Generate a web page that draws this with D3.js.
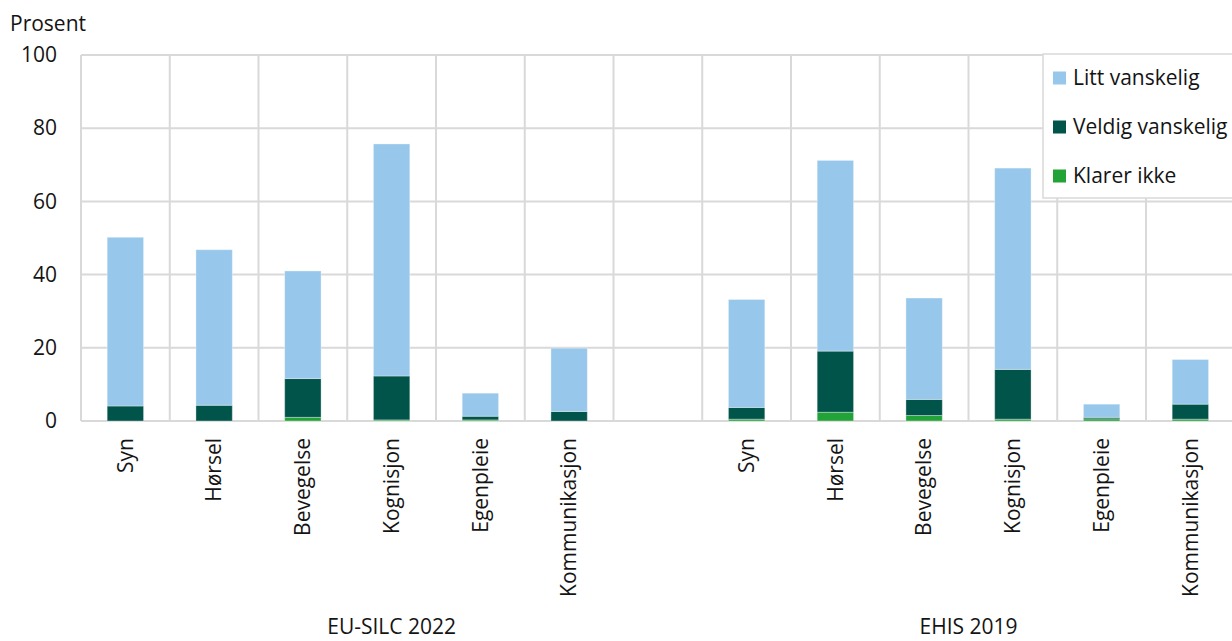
<!DOCTYPE html>
<html>
<head>
<meta charset="utf-8">
<script src="https://cdn.jsdelivr.net/npm/d3@7"></script>
<style>
  html, body { margin: 0; padding: 0; background: #fff; }
  svg { display: block; font-family: "Open Sans", sans-serif; }
</style>
</head>
<body>
<svg id="chart" width="1232" height="641"></svg>
<script>
// Difficulty with functional tasks, share in percent, by survey
const categories = ["Syn", "Hørsel", "Bevegelse", "Kognisjon", "Egenpleie", "Kommunikasjon"];
const surveys = ["EU-SILC 2022", "EHIS 2019"];
const seriesNames = ["Klarer ikke", "Veldig vanskelig", "Litt vanskelig"];
const seriesColors = ["#21a338", "#00544a", "#97c7eb"];

// Values per category, one array per survey
const klarerIkkeSilc      = [0.0, 0.0, 1.0, 0.3, 0.3, 0.0];
const veldigVanskeligSilc = [4.1, 4.3, 10.6, 12.0, 1.0, 2.6];
const littVanskeligSilc   = [46.1, 42.5, 29.4, 63.4, 6.3, 17.3];

const klarerIkkeEhis      = [0.5, 2.4, 1.5, 0.5, 0.6, 0.5];
const veldigVanskeligEhis = [3.2, 16.7, 4.4, 13.6, 0.4, 4.1];
const littVanskeligEhis   = [29.5, 52.1, 27.7, 55.0, 3.6, 12.2];

const yTicks = [0, 20, 40, 60, 80, 100];
const yTitle = "Prosent";

// Build rows: first survey, an empty slot, then the second survey
const rows = [];
categories.forEach((c, i) => rows.push({
  key: "s" + i, label: c, survey: 0,
  "Klarer ikke": klarerIkkeSilc[i],
  "Veldig vanskelig": veldigVanskeligSilc[i],
  "Litt vanskelig": littVanskeligSilc[i]
}));
rows.push({ key: "gap", label: "", survey: 0, "Klarer ikke": 0, "Veldig vanskelig": 0, "Litt vanskelig": 0 });
categories.forEach((c, i) => rows.push({
  key: "e" + i, label: c, survey: 1,
  "Klarer ikke": klarerIkkeEhis[i],
  "Veldig vanskelig": veldigVanskeligEhis[i],
  "Litt vanskelig": littVanskeligEhis[i]
}));

const svg = d3.select("#chart");
const margin = { left: 81, top: 55, bottom: 421 };
const plotRight = 81 + 13 * 88.75;
const fontSize = 21;
const textColor = "#141414";

const x = d3.scaleBand().domain(rows.map(d => d.key)).range([margin.left, plotRight]).paddingInner(0).paddingOuter(0);
const y = d3.scaleLinear().domain([0, 100]).range([margin.bottom, margin.top]);

const gridColor = "#d9d9d9";
const grid = svg.append("g");

// horizontal gridlines
grid.selectAll("line.h").data(yTicks).join("line")
  .attr("x1", margin.left).attr("x2", plotRight)
  .attr("y1", d => y(d)).attr("y2", d => y(d))
  .attr("stroke", gridColor).attr("stroke-width", 2);

// vertical gridlines at category boundaries
const bounds = rows.map(d => x(d.key)).concat([plotRight]);
grid.selectAll("line.v").data(bounds).join("line")
  .attr("x1", d => d).attr("x2", d => d)
  .attr("y1", y(100)).attr("y2", y(0))
  .attr("stroke", gridColor).attr("stroke-width", 2);

// stacked bars
const stack = d3.stack().keys(seriesNames);
const stacked = stack(rows);
const bw = x.bandwidth() * 0.41;

svg.append("g").selectAll("g").data(stacked).join("g")
  .attr("fill", (d, i) => seriesColors[i])
  .selectAll("rect").data(d => d.filter(p => p[1] - p[0] > 0)).join("rect")
  .attr("x", d => x(d.data.key) + (x.bandwidth() - bw) / 2)
  .attr("width", bw)
  .attr("y", d => y(d[1]))
  .attr("height", d => y(d[0]) - y(d[1]))
  .attr("stroke", "rgba(255,255,255,0.35)")
  .attr("stroke-width", 1);

// y axis labels
const yAxis = d3.axisLeft(y).tickValues(yTicks).tickSize(0).tickPadding(24);
const ya = svg.append("g").attr("transform", `translate(${margin.left},0)`).call(yAxis);
ya.select(".domain").remove();
ya.selectAll("text").attr("font-size", fontSize).attr("fill", textColor).attr("font-family", "Open Sans, sans-serif");

svg.append("text").attr("x", 10).attr("y", 31).attr("font-size", fontSize).attr("fill", textColor).text(yTitle);

// category labels, rotated
svg.append("g").selectAll("text").data(rows.filter(d => d.label)).join("text")
  .attr("transform", d => `translate(${x(d.key) + x.bandwidth() / 2},438) rotate(-90)`)
  .attr("text-anchor", "end")
  .attr("dy", "0.35em")
  .attr("font-size", fontSize).attr("fill", textColor)
  .text(d => d.label);

// survey labels centred under their groups
const groupSpan = [
  [x("s0"), x("gap") + x.bandwidth()],
  [x("e0"), plotRight]
];
svg.append("g").selectAll("text").data(surveys).join("text")
  .attr("x", (d, i) => (groupSpan[i][0] + groupSpan[i][1]) / 2)
  .attr("y", 634)
  .attr("text-anchor", "middle")
  .attr("font-size", fontSize).attr("fill", textColor)
  .text(d => d);

// legend
const legend = svg.append("g");
legend.append("rect").attr("x", 1043).attr("y", 54).attr("width", 200).attr("height", 144)
  .attr("fill", "#fff").attr("stroke", gridColor).attr("stroke-width", 1.5);
const legendOrder = ["Litt vanskelig", "Veldig vanskelig", "Klarer ikke"];
const li = legend.selectAll("g.item").data(legendOrder).join("g")
  .attr("transform", (d, i) => `translate(1053,${78 + i * 49})`);
li.append("rect").attr("x", 0).attr("y", -6.5).attr("width", 13).attr("height", 13)
  .attr("fill", d => seriesColors[seriesNames.indexOf(d)]);
li.append("text").attr("x", 20).attr("dy", "0.35em").attr("font-size", fontSize).attr("fill", textColor).text(d => d);
</script>
</body>
</html>
